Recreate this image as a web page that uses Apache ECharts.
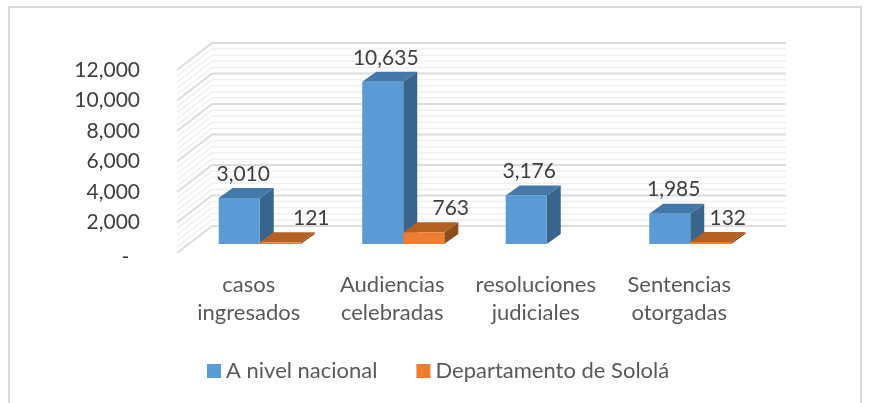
<!DOCTYPE html>
<html>
<head>
<meta charset="utf-8">
<title>Casos Sololá</title>
<script src="https://cdn.jsdelivr.net/npm/echarts@6/dist/echarts.min.js"></script>
<style>
html, body { margin: 0; padding: 0; background: #fff; }
#chart { width: 883px; height: 403px; filter: blur(0.45px); }
</style>
</head>
<body>
<div id="chart"></div>
<script>
// datos
var categories = ['casos\ningresados', 'Audiencias\ncelebradas', 'resoluciones\njudiciales', 'Sentencias\notorgadas']
var nacional = [3010, 10635, 3176, 1985]
var solola = [121, 763, null, 132]
var majorLines = [0, 2000, 4000, 6000, 8000, 10000, 12000]
var minorLines = [400, 800, 1200, 1600, 2400, 2800, 3200, 3600, 4400, 4800, 5200, 5600,
  6400, 6800, 7200, 7600, 8400, 8800, 9200, 9600, 10400, 10800, 11200, 11600]

// profundidad de la pared del fondo y de las barras
var wallDepth = [35, -27]
var barDepth = [14, -10]
var barShift = [11, -9]
var barRatio = 0.286
var font = 'Lato, "Open Sans", sans-serif'
// etiquetas movidas a mano en el original
var nacionalLabelDx = [-3, -4, -4, -3]
var sololaLabelDx = [24, 20, 0, 10]

function wallItem(color, width) {
  return function (params, api) {
    var p = api.coord([0, api.value(1)])
    var x0 = params.coordSys.x
    var x1 = x0 + params.coordSys.width
    return {
      type: 'polyline',
      shape: { points: [[x0, p[1]], [x0 + wallDepth[0], p[1] + wallDepth[1]], [x1 + wallDepth[0], p[1] + wallDepth[1]]] },
      style: { fill: null, stroke: color, lineWidth: width },
      silent: true
    }
  }
}

function barItem(side, colors, labelDx) {
  return function (params, api) {
    var val = api.value(1)
    if (val == null || isNaN(val)) return null
    var cat = api.value(0)
    var w = api.size([1, 0])[0] * barRatio
    var base = api.coord([cat, 0])
    var top = api.coord([cat, val])
    var x0 = base[0] + barShift[0] + (side === 0 ? -w : 0)
    var x1 = x0 + w
    var y0 = base[1] + barShift[1]
    var y1 = top[1] + barShift[1]
    var dx = barDepth[0]
    var dy = barDepth[1]
    return {
      type: 'group',
      children: [
        { type: 'polygon', shape: { points: [[x1, y1], [x1 + dx, y1 + dy], [x1 + dx, y0 + dy], [x1, y0]] }, style: { fill: colors[2] } },
        { type: 'polygon', shape: { points: [[x0, y1], [x1, y1], [x1 + dx, y1 + dy], [x0 + dx, y1 + dy]] }, style: { fill: colors[1] } },
        { type: 'polygon', shape: { points: [[x0, y0], [x1, y0], [x1, y1], [x0, y1]] }, style: { fill: colors[0] } },
        {
          type: 'text',
          style: {
            text: val.toLocaleString('en-US'),
            x: (x0 + x1) / 2 + dx / 2 + labelDx[cat],
            y: y1 + dy - 14,
            align: 'center',
            verticalAlign: 'middle',
            fill: '#404040',
            font: '21px ' + font
          }
        }
      ]
    }
  }
}

function toPairs(list) {
  return list.map(function (v, i) { return [i, v] })
}

function toLines(list) {
  return list.map(function (v) { return [0, v] })
}

var myChart = echarts.init(document.getElementById('chart'), null, { renderer: 'canvas' })

myChart.setOption({
  animation: false,
  backgroundColor: '#fff',
  textStyle: { fontFamily: font },
  graphic: [{
    type: 'polyline',
    shape: { points: [[9, 403], [9, 7], [861, 7], [861, 403]] },
    style: { fill: null, stroke: '#d9d9d9', lineWidth: 2 }
  }],
  legend: {
    left: 207,
    top: 360,
    padding: 0,
    itemWidth: 14,
    itemHeight: 14,
    itemGap: 39,
    icon: 'rect',
    data: ['A nivel nacional', 'Departamento de Sololá'],
    textStyle: { fontSize: 22, color: '#595959', fontFamily: font }
  },
  grid: { left: 177, top: 70, width: 574, height: 183 },
  xAxis: {
    type: 'category',
    data: categories,
    axisLine: { show: false },
    axisTick: { show: false },
    axisLabel: { margin: 18, fontSize: 22, lineHeight: 28, color: '#595959', fontFamily: font, interval: 0 }
  },
  yAxis: {
    type: 'value',
    min: 0,
    max: 12000,
    interval: 2000,
    axisLine: { show: false },
    axisTick: { show: false },
    splitLine: { show: false },
    axisLabel: {
      margin: 37,
      fontSize: 21,
      color: '#404040',
      fontFamily: font,
      formatter: function (v) { return v === 0 ? '{d|-}  ' : v.toLocaleString('en-US') },
      rich: { d: { fontSize: 21, color: '#404040', padding: [8, 0, 0, 0] } }
    }
  },
  series: [
    { name: 'minor', type: 'custom', data: toLines(minorLines), encode: { x: 0, y: 1 }, clip: false, z: 1, renderItem: wallItem('#f0f0f0', 1.5) },
    { name: 'major', type: 'custom', data: toLines(majorLines), encode: { x: 0, y: 1 }, clip: false, z: 2, renderItem: wallItem('#dcdcdc', 2) },
    {
      name: 'A nivel nacional',
      type: 'custom',
      data: toPairs(nacional),
      encode: { x: 0, y: 1 },
      clip: false,
      z: 3,
      itemStyle: { color: '#5b9bd5' },
      renderItem: barItem(0, ['#5b9bd5', '#4478a8', '#39658c'], nacionalLabelDx)
    },
    {
      name: 'Departamento de Sololá',
      type: 'custom',
      data: toPairs(solola),
      encode: { x: 0, y: 1 },
      clip: false,
      z: 4,
      itemStyle: { color: '#ed7d31' },
      renderItem: barItem(1, ['#ed7d31', '#b55f20', '#8e4d1c'], sololaLabelDx)
    }
  ]
})
</script>
</body>
</html>
